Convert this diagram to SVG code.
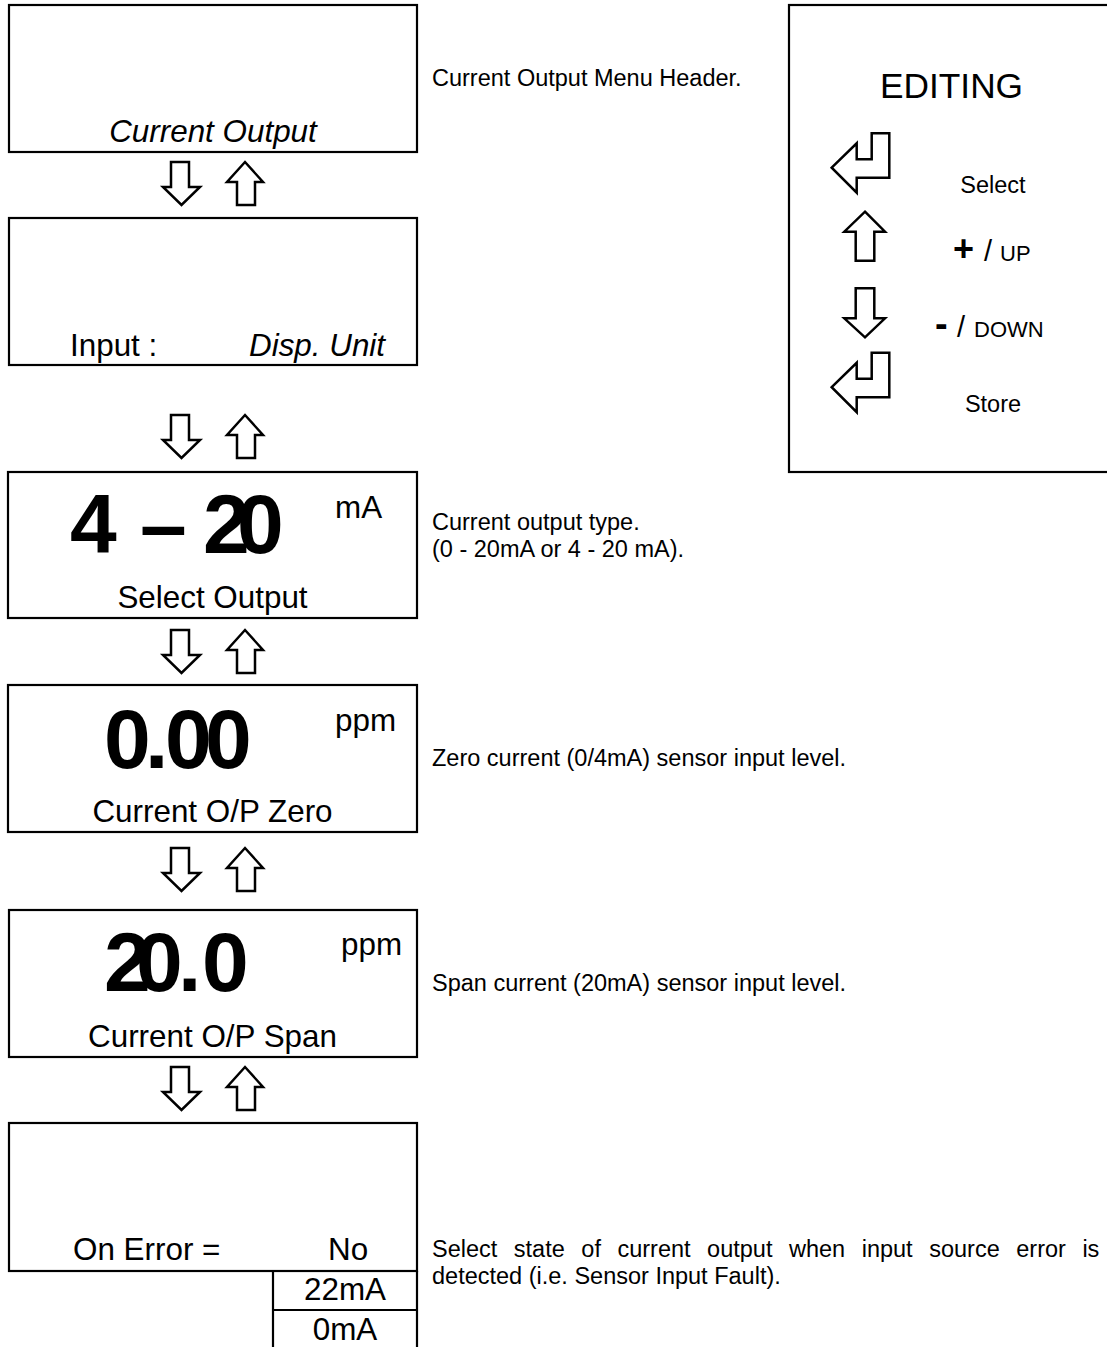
<svg xmlns="http://www.w3.org/2000/svg" xmlns:xlink="http://www.w3.org/1999/xlink" width="1107" height="1347" viewBox="0 0 1107 1347">
<style>
text{font-family:"Liberation Sans",Arial,sans-serif;fill:#000}
.box{fill:#fff;stroke:#000;stroke-width:2.2}
.ln{fill:none;stroke:#000;stroke-width:2.2}
.arr{fill:#fff;stroke:#000;stroke-width:2.5;stroke-linejoin:miter}
.m{font-size:31.4px}
.it{font-style:italic}
.s{font-size:23.5px}
.big{font-size:84px;font-weight:bold}
.c{text-anchor:middle}
</style>
<defs>
<path id="dn" class="arr" d="M171,0 H189 V25 H200 L181.5,43 L163,25 H171 Z"/>
<path id="up" class="arr" d="M245,0 L263,20 H255 V43 H237 V20 H227 Z"/>
<path id="enter" class="arr" d="M831.7,167.7 L856.7,143.3 V159.3 H871.7 V133.3 H889.3 V177.7 H856.7 V192.7 Z"/>
</defs>
<rect width="1107" height="1347" fill="#fff"/>

<g id="n1">
<rect class="box" x="9" y="5" width="408" height="147"/>
<text class="m it c" x="213" y="142">Current Output</text>
</g>
<g id="n2">
<rect class="box" x="9" y="218" width="408" height="147"/>
<text class="m" x="70" y="356">Input :</text>
<text class="m it" x="249" y="356">Disp. Unit</text>
</g>
<g id="n3">
<rect class="box" x="8" y="472" width="409" height="146"/>
<text class="big" x="70 140 203 237" y="553">4–20</text>
<text class="m" x="335" y="518">mA</text>
<text class="m c" x="212.5" y="608">Select Output</text>
</g>
<g id="n4">
<rect class="box" x="8" y="685" width="409" height="147"/>
<text class="big" x="104 145 165 205" y="768">0.00</text>
<text class="m" x="335" y="731">ppm</text>
<text class="m c" x="212.5" y="822">Current O/P Zero</text>
</g>
<g id="n5">
<rect class="box" x="9" y="910" width="408" height="147"/>
<text class="big" x="104 136 178 202" y="991">20.0</text>
<text class="m" x="341" y="955">ppm</text>
<text class="m c" x="212.5" y="1047">Current O/P Span</text>
</g>
<g id="n6">
<rect class="box" x="9" y="1123" width="408" height="148"/>
<text class="m" x="73" y="1260">On Error =</text>
<text class="m" x="328" y="1260">No</text>
</g>
<g id="n6-options">
<path class="ln" d="M273,1271 V1347 M417,1271 V1347 M273,1310 H417"/>
<text class="m c" x="345" y="1300">22mA</text>
<text class="m c" x="345" y="1340">0mA</text>
</g>

<g id="editing">
<rect class="box" x="789" y="5" width="330" height="467"/>
<text class="c" x="951.5" y="98" font-size="35.3px">EDITING</text>
<use xlink:href="#enter"/>
<text class="s c" x="993" y="193">Select</text>
<path class="arr" d="M865,211.7 L885,231.7 H874.3 V260.7 H855.7 V231.7 H844.3 Z"/>
<text y="261"><tspan x="953" font-size="36px" font-weight="bold">+</tspan><tspan x="984" font-size="29px">/</tspan><tspan x="1000" font-size="22px">UP</tspan></text>
<path class="arr" d="M855.7,288.3 H874.3 V318.3 H885 L865,337.3 L844.3,318.3 H855.7 Z"/>
<text y="337"><tspan x="935" font-size="38px" font-weight="bold">-</tspan><tspan x="957" font-size="29px">/</tspan><tspan x="974" font-size="22px">DOWN</tspan></text>
<use xlink:href="#enter" transform="translate(0,219.5)"/>
<text class="s c" x="993" y="412">Store</text>
</g>

<g id="notes">
<text class="s" x="432" y="86">Current Output Menu Header.</text>
<text class="s" x="432" y="530">Current output type.</text>
<text class="s" x="432" y="557">(0 - 20mA or 4 - 20 mA).</text>
<text class="s" x="432" y="766">Zero current (0/4mA) sensor input level.</text>
<text class="s" x="432" y="991">Span current (20mA) sensor input level.</text>
<text class="s" x="432" y="1257" word-spacing="10">Select state of current output when input source error is</text>
<text class="s" x="432" y="1284">detected (i.e. Sensor Input Fault).</text>
</g>

<g id="connectors">
<use xlink:href="#dn" y="162"/><use xlink:href="#up" y="162"/>
<use xlink:href="#dn" y="415"/><use xlink:href="#up" y="415"/>
<use xlink:href="#dn" y="630"/><use xlink:href="#up" y="630"/>
<use xlink:href="#dn" y="848"/><use xlink:href="#up" y="848"/>
<use xlink:href="#dn" y="1067"/><use xlink:href="#up" y="1067"/>
</g>
</svg>
